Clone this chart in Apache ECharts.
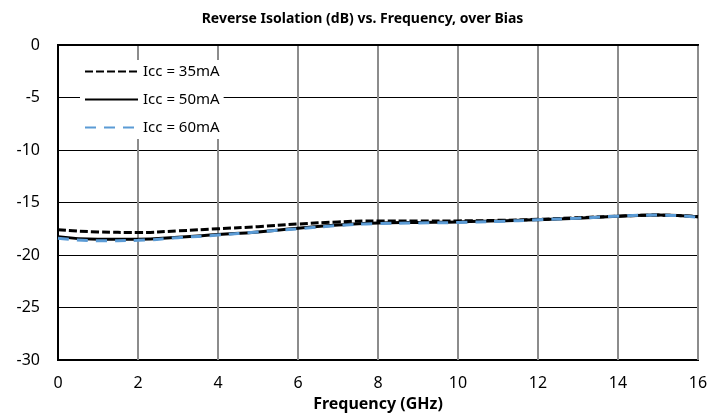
<!DOCTYPE html>
<html>
<head>
<meta charset="utf-8">
<script src="https://cdn.jsdelivr.net/npm/echarts@6/dist/echarts.min.js"></script>
<style>
  html, body { margin: 0; padding: 0; background: #fff; }
  #main { width: 725px; height: 419px; }
</style>
</head>
<body>
<div id="main"></div>
<script>
// 频率 (GHz)
var freq = [0, 1, 2, 3, 4, 5, 6, 7, 8, 9, 10, 11, 12, 13, 14, 15, 16];
// 各偏置下的反向隔离度 (dB)
var icc35 = [-17.6, -17.8, -17.85, -17.7, -17.5, -17.3, -17.05, -16.85, -16.75, -16.75, -16.75, -16.7, -16.6, -16.45, -16.3, -16.2, -16.35];
var icc50 = [-18.25, -18.5, -18.5, -18.3, -18.05, -17.8, -17.45, -17.15, -16.95, -16.9, -16.85, -16.75, -16.65, -16.5, -16.3, -16.2, -16.35];
var icc60 = [-18.4, -18.65, -18.6, -18.35, -18.1, -17.8, -17.5, -17.2, -17.0, -16.95, -16.9, -16.8, -16.65, -16.5, -16.3, -16.2, -16.4];
var names = ['Icc = 35mA', 'Icc = 50mA', 'Icc = 60mA'];

function pairs(ys) {
  return freq.map(function (f, i) { return [f, ys[i]]; });
}

var font = 'Noto Sans';
var myChart = echarts.init(document.getElementById('main'));
myChart.setOption({
  animation: false,
  title: {
    text: 'Reverse Isolation (dB) vs. Frequency, over Bias',
    left: 'center',
    top: 7,
    textStyle: { fontFamily: font, fontSize: 14, fontWeight: 'bold', color: '#000' }
  },
  legend: {
    orient: 'vertical',
    left: 80,
    top: 60,
    itemWidth: 53,
    itemHeight: 12,
    itemGap: 13,
    padding: [4, 4, 4, 4],
    backgroundColor: '#fff',
    itemStyle: { opacity: 0 },
    textStyle: { fontFamily: font, fontSize: 15, color: '#000' },
    data: names
  },
  grid: {
    left: 58, right: 27, top: 45, bottom: 59,
    show: true, borderColor: '#000', borderWidth: 2
  },
  xAxis: {
    type: 'value',
    min: 0, max: 16, interval: 2,
    name: 'Frequency (GHz)',
    nameLocation: 'middle',
    nameGap: 36,
    nameTextStyle: { fontFamily: font, fontSize: 16, fontWeight: 'bold', color: '#000' },
    axisLine: { lineStyle: { color: '#000', width: 2 } },
    axisTick: { show: false },
    axisLabel: { fontFamily: font, fontSize: 16, color: '#000', margin: 15 },
    splitLine: { show: true, lineStyle: { color: '#8c8c8c', width: 2 } }
  },
  yAxis: {
    type: 'value',
    min: -30, max: 0, interval: 5,
    axisLine: { show: true, lineStyle: { color: '#000', width: 2 } },
    axisTick: { show: false },
    axisLabel: { fontFamily: font, fontSize: 16, color: '#000', margin: 18 },
    splitLine: { show: true, lineStyle: { color: '#000', width: 1 } }
  },
  series: [
    {
      name: names[0], type: 'line', smooth: true, symbol: 'none',
      data: pairs(icc35),
      lineStyle: { color: '#000', width: 3, type: [8, 3] },
      itemStyle: { color: '#000' }
    },
    {
      name: names[1], type: 'line', smooth: true, symbol: 'none',
      data: pairs(icc50),
      lineStyle: { color: '#000', width: 3 },
      itemStyle: { color: '#000' }
    },
    {
      name: names[2], type: 'line', smooth: true, symbol: 'none',
      data: pairs(icc60),
      lineStyle: { color: '#5b9bd5', width: 3, type: [11, 8] },
      itemStyle: { color: '#5b9bd5' }
    }
  ]
});
</script>
</body>
</html>
